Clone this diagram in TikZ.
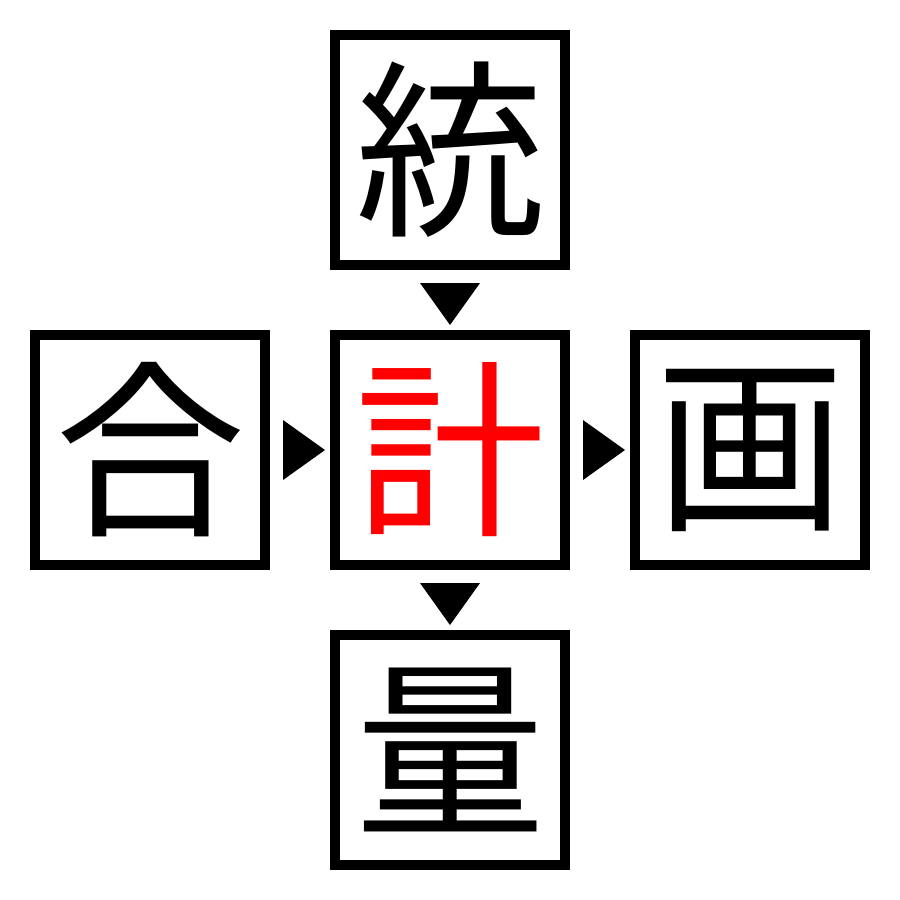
\documentclass[tikz,border=0pt]{standalone}
\usepackage{fontspec}
\newfontfamily\cjk{Noto Sans CJK JP}
\begin{document}
\begin{tikzpicture}[x=1pt,y=-1pt,
  cell/.style={draw=black,line width=10pt,minimum width=230pt,minimum height=230pt,inner sep=0pt,fill=white},
  glyph/.style={font=\cjk\fontsize{190}{190}\selectfont,inner sep=0pt},
  tri/.style={fill=black,draw=none}]
\useasboundingbox (0,0) rectangle (900,900);
\node[cell] (top) at (450,150) {};
\node[cell] (left) at (150,450) {};
\node[cell] (center) at (450,450) {};
\node[cell] (right) at (750,450) {};
\node[cell] (bottom) at (450,750) {};
\node[glyph] (gt) at (top.center) {統};
\node[glyph] (gl) at (left.center) {合};
\node[glyph,text=red] (gc) at (center.center) {計};
\node[glyph] (gr) at (right.center) {画};
\node[glyph] (gb) at (bottom.center) {量};
\fill[tri] ([xshift=-30pt,yshift=-13pt]top.south) -- ([xshift=30pt,yshift=-13pt]top.south) -- ([yshift=-55pt]top.south) -- cycle;
\fill[tri] ([xshift=-30pt,yshift=-13pt]center.south) -- ([xshift=30pt,yshift=-13pt]center.south) -- ([yshift=-55pt]center.south) -- cycle;
\fill[tri] ([xshift=13pt,yshift=-30pt]left.east) -- ([xshift=13pt,yshift=30pt]left.east) -- ([xshift=55pt]left.east) -- cycle;
\fill[tri] ([xshift=13pt,yshift=-30pt]center.east) -- ([xshift=13pt,yshift=30pt]center.east) -- ([xshift=55pt]center.east) -- cycle;
\end{tikzpicture}
\end{document}
